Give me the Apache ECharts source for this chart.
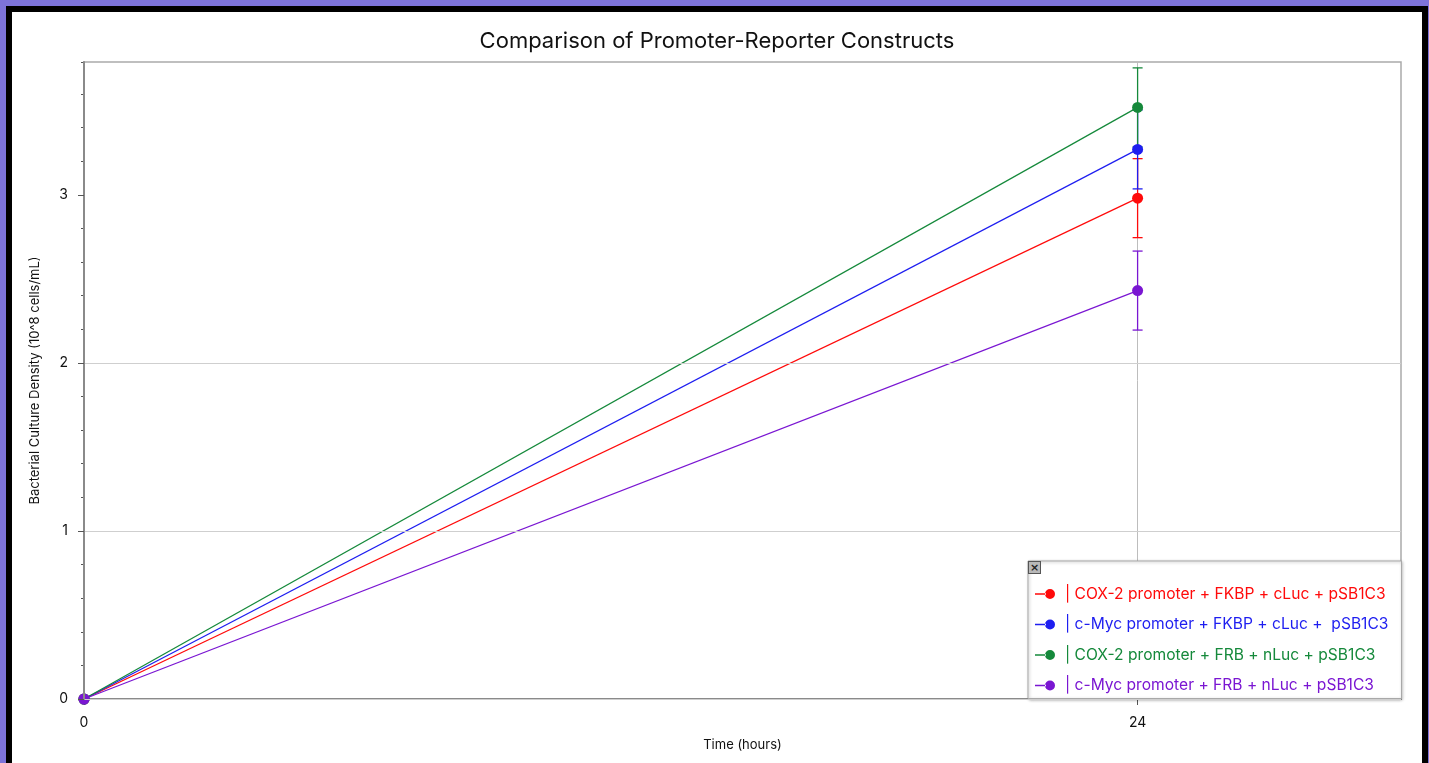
<!DOCTYPE html>
<html>
<head>
<meta charset="utf-8">
<script src="https://cdn.jsdelivr.net/npm/echarts@6/dist/echarts.min.js"></script>
<style>
  html, body { margin: 0; padding: 0; width: 1429px; height: 763px; overflow: hidden; background: #7d73d9; }
  #frame { position: absolute; left: 6px; top: 6px; width: 1422px; height: 760px; background: #000; }
  #chart { position: absolute; left: 12px; top: 12px; width: 1410px; height: 751px; background: #fff; }
  #closeBtn { position: absolute; left: 1028px; top: 561px; width: 13px; height: 13px; background: #b8b8b8;
    border: 1px solid #555; box-sizing: border-box; font: bold 11px/11px "DejaVu Sans", sans-serif; text-align: center; color: #222; z-index: 5; }
</style>
</head>
<body>
<div id="frame"></div>
<div id="chart"></div>
<div id="closeBtn">×</div>
<script>
const hours = [0, 24]
const yTicks = [0, 1, 2, 3]
const seriesNames = [
  '| COX-2 promoter + FKBP + cLuc + pSB1C3',
  '| c-Myc promoter + FKBP + cLuc +  pSB1C3',
  '| COX-2 promoter + FRB + nLuc + pSB1C3',
  '| c-Myc promoter + FRB + nLuc + pSB1C3'
]
const colors = ['#ff0a0a', '#1e1ef0', '#15893b', '#7a16d2']
const cox2Fkbp = [0, 2.98]
const cmycFkbp = [0, 3.27]
const cox2Frb = [0, 3.52]
const cmycFrb = [0, 2.43]
const cox2FkbpErr = [0, 0.235]
const cmycFkbpErr = [0, 0.235]
const cox2FrbErr = [0, 0.235]
const cmycFrbErr = [0, 0.235]

const values = [cox2Fkbp, cmycFkbp, cox2Frb, cmycFrb]
const errors = [cox2FkbpErr, cmycFkbpErr, cox2FrbErr, cmycFrbErr]

const chart = echarts.init(document.getElementById('chart'))
const font = 'Inter, "Liberation Sans", sans-serif'

const lineSeries = values.map((vals, i) => ({
  name: seriesNames[i],
  type: 'line',
  data: hours.map((h, j) => [h, vals[j]]),
  symbol: 'circle',
  symbolSize: 11,
  color: colors[i],
  lineStyle: { width: 1.2, color: colors[i] },
  itemStyle: { color: colors[i] },
  z: 3
}))

// error bars drawn with a custom series
const errSeries = values.map((vals, i) => ({
  name: seriesNames[i],
  type: 'custom',
  color: colors[i],
  itemStyle: { color: colors[i] },
  data: hours.map((h, j) => [h, vals[j] - errors[i][j], vals[j] + errors[i][j]]),
  renderItem: (params, api) => {
    const x = api.value(0)
    const lo = api.coord([x, api.value(1)])
    const hi = api.coord([x, api.value(2)])
    if (Math.abs(hi[1] - lo[1]) < 1) return
    const w = 5
    const style = { stroke: colors[i], lineWidth: 1.3 }
    return {
      type: 'group',
      children: [
        { type: 'line', shape: { x1: hi[0], y1: hi[1], x2: lo[0], y2: lo[1] }, style },
        { type: 'line', shape: { x1: hi[0] - w, y1: hi[1], x2: hi[0] + w, y2: hi[1] }, style },
        { type: 'line', shape: { x1: lo[0] - w, y1: lo[1], x2: lo[0] + w, y2: lo[1] }, style }
      ]
    }
  },
  z: 2
}))

const legendIcon = 'path://M0,9.3h11v1.4h-11z M10,10a5,5 0 1,0 10,0a5,5 0 1,0 -10,0z'

chart.setOption({
  animation: false,
  textStyle: { fontFamily: font },
  title: {
    text: 'Comparison of Promoter-Reporter Constructs',
    left: 'center',
    top: 13,
    textStyle: { fontSize: 22, fontWeight: 400, color: '#111', fontFamily: font }
  },
  legend: {
    orient: 'vertical',
    left: 1016,
    top: 549,
    width: 373,
    height: 138,
    padding: [24, 13, 4, 7],
    itemGap: 12.5,
    itemWidth: 20,
    itemHeight: 10,
    icon: legendIcon,
    backgroundColor: '#fff',
    borderColor: '#a8a8a8',
    borderWidth: 1,
    shadowColor: 'rgba(0,0,0,0.3)',
    shadowBlur: 3,
    shadowOffsetX: 1,
    shadowOffsetY: 1,
    selectedMode: false,
    data: seriesNames.map((n, i) => ({ name: n, textStyle: { color: colors[i] } })),
    textStyle: { fontSize: 15.6, fontFamily: font, lineHeight: 18, padding: [0, 0, 0, 5] }
  },
  grid: { left: 72, right: 21, top: 50, bottom: 64, show: true, borderColor: '#aaa', borderWidth: 1.5 },
  xAxis: {
    type: 'value',
    min: 0,
    max: 30,
    interval: 24,
    name: 'Time (hours)',
    nameLocation: 'middle',
    nameGap: 40,
    nameTextStyle: { fontSize: 13, color: '#111' },
    axisLine: { show: true, onZero: false, lineStyle: { color: '#8a8a8a', width: 2 } },
    axisTick: { show: true, length: 6, lineStyle: { color: '#555' }, customValues: hours },
    axisLabel: { fontSize: 14, color: '#111', margin: 17, customValues: hours },
    splitLine: { show: true, showMinLine: false, lineStyle: { color: '#bdbdbd', width: 1 } }
  },
  yAxis: [{
    type: 'value',
    min: 0,
    max: 3.79,
    interval: 1,
    name: 'Bacterial Culture Density (10^8 cells/mL)',
    nameLocation: 'middle',
    nameGap: 42,
    nameTextStyle: { fontSize: 13, color: '#111' },
    axisLine: { show: true, lineStyle: { color: '#8a8a8a', width: 2 } },
    axisTick: { show: true, length: 6, lineStyle: { color: '#555' }, customValues: yTicks },
    axisLabel: { fontSize: 14, color: '#111', margin: 16, customValues: yTicks },
    splitLine: { show: true, showMaxLine: false, lineStyle: { color: '#cfcfcf', width: 1.2 } },
    z: 4
  }, {
    // minor ticks only
    type: 'value',
    position: 'left',
    min: 0,
    max: 3.79,
    interval: 0.2,
    axisLine: { show: false },
    axisTick: { show: true, length: 3, lineStyle: { color: '#555' } },
    axisLabel: { show: false },
    splitLine: { show: false }
  }],
  series: [...errSeries, ...lineSeries]
})
</script>
</body>
</html>
